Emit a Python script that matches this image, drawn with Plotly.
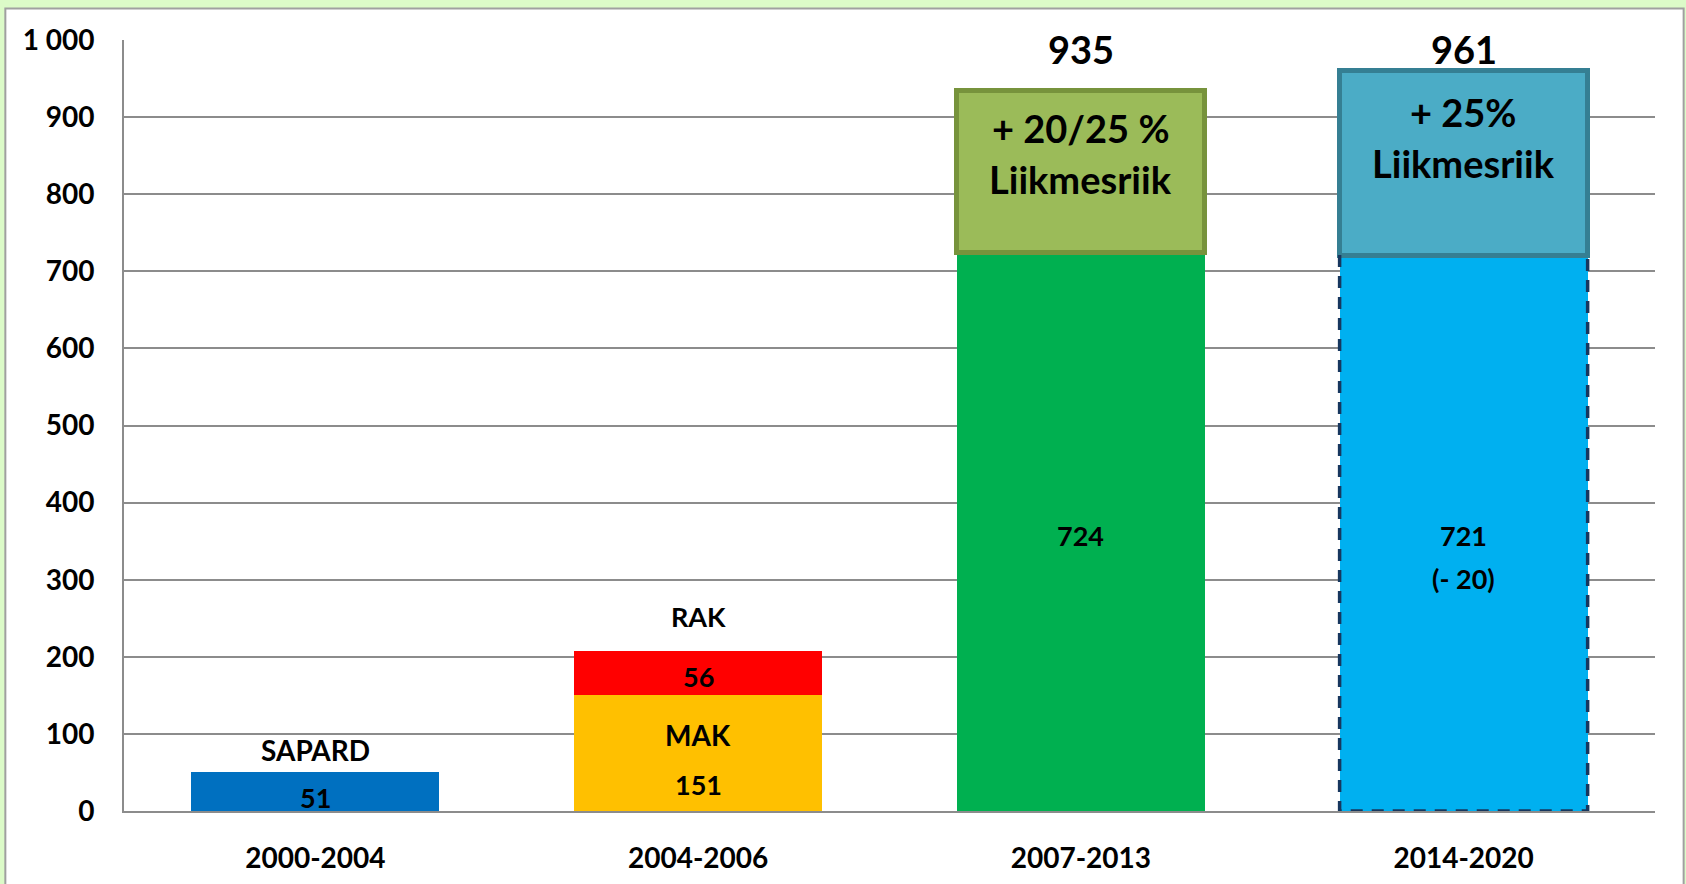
import plotly.graph_objects as go

categories = ["2000-2004", "2004-2006", "2007-2013", "2014-2020"]
base_values = [51, 151, 724, 721]
top_values = [0, 56, 211, 240]
totals = [51, 207, 935, 961]
base_labels = ["51", "151", "724", "721"]
y_ticks = [0, 100, 200, 300, 400, 500, 600, 700, 800, 900, 1000]
y_tick_labels = ["0", "100", "200", "300", "400", "500", "600", "700", "800", "900", "1 000"]

base_colors = ["#0070C0", "#FFC000", "#00B050", "#00B0F0"]
top_colors = ["rgba(0,0,0,0)", "#FF0000", "#9BBB59", "#4BACC6"]
top_line_colors = ["rgba(0,0,0,0)", "#FF0000", "#77933C", "#357F93"]
top_line_widths = [0, 0, 5, 5]

FONT = "Lato, 'Open Sans', sans-serif"
W = 0.648
xs = list(range(len(categories)))

fig = go.Figure()
fig.add_trace(go.Bar(x=xs, y=base_values, width=W, marker=dict(color=base_colors, line=dict(width=0)),
                     hoverinfo="skip"))
fig.add_trace(go.Bar(x=xs, y=top_values, width=W,
                     marker=dict(color=top_colors, line=dict(color=top_line_colors, width=top_line_widths)),
                     hoverinfo="skip"))

# dashed outline on the 2014-2020 base bar
i = 3
x0, x1 = xs[i] - W / 2, xs[i] + W / 2
fig.add_shape(type="path", xref="x", yref="y",
              path=f"M {x0},{base_values[i]} L {x0},0 L {x1},0 L {x1},{base_values[i]}",
              line=dict(color="#17375E", width=3.5, dash="12px,9px"), layer="above")

# panel background
fig.add_shape(type="rect", xref="paper", yref="paper", x0=-0.0775, x1=1.0187, y0=-0.2, y1=1.041,
              fillcolor="white", line=dict(color="#A0A0A0", width=2), layer="below")

def ann(x, y, text, size=27, yshift=0):
    fig.add_annotation(x=x, y=y, xref="x", yref="y", text=text, showarrow=False, yshift=yshift,
                       font=dict(family=FONT, size=size, color="black", weight="bold"))

ann(0, 79, "SAPARD", size=28)
ann(0, 18, base_labels[0])
ann(1, 252, "RAK")
ann(1, 174, str(top_values[1]))
ann(1, 98, "MAK", size=28)
ann(1, 35, base_labels[1])
ann(2, 357, base_labels[2])
ann(3, 357, base_labels[3])
ann(3, 302, "(- 20)")
ann(2, 988, str(totals[2]), size=38)
ann(3, 988, str(totals[3]), size=38)
ann(2, 886, "+ 20/25 %", size=38)
ann(2, 820, "Liikmesriik", size=38)
ann(3, 907, "+ 25%", size=38)
ann(3, 840, "Liikmesriik", size=38)

fig.update_layout(
    barmode="stack",
    width=1686, height=884,
    margin=dict(l=124, r=31, t=40, b=73, autoexpand=False),
    paper_bgcolor="#DCFBC8",
    plot_bgcolor="white",
    showlegend=False,
    bargap=0.35,
    font=dict(family=FONT, color="black"),
)
fig.update_xaxes(range=[-0.5, 3.5], tickvals=xs, ticktext=categories, showgrid=False, automargin=False,
                 showline=True, linecolor="#8C8C8C", linewidth=2, ticks="", ticklabelstandoff=21,
                 tickfont=dict(family=FONT, size=28, color="black", weight="bold"), zeroline=False)
fig.update_yaxes(range=[0, 1000], tickvals=y_ticks, ticktext=y_tick_labels, showgrid=True, automargin=False,
                 gridcolor="#8C8C8C", gridwidth=2, showline=True, linecolor="#8C8C8C", linewidth=2,
                 ticks="", ticklabelstandoff=22, zeroline=False,
                 tickfont=dict(family=FONT, size=28, color="black", weight="bold"))

fig.write_html("out.html", config={"displayModeBar": False},
               post_script="document.body.style.margin='0';document.body.style.overflow='hidden';")
